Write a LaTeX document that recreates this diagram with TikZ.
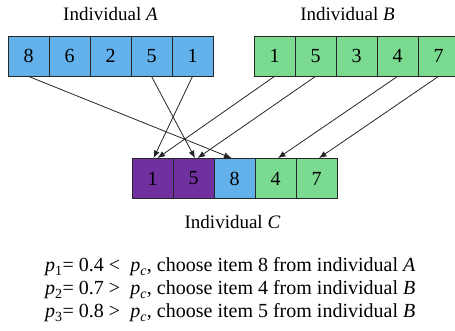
\documentclass[tikz,border=0pt]{standalone}
\usepackage{fontspec}
\setmainfont{Liberation Serif}
\usetikzlibrary{arrows.meta}

\definecolor{cellblue}{RGB}{99,177,234}
\definecolor{cellgreen}{RGB}{122,218,144}
\definecolor{cellpurple}{RGB}{112,48,160}
\definecolor{linegray}{RGB}{38,38,38}

\tikzset{
    cell/.style={shape=rectangle,draw=linegray,line width=0.8pt,minimum width=41pt,
        minimum height=40pt,inner sep=0pt,font=\fontsize{20}{24}\selectfont},
    cellA/.style={cell,fill=cellblue},
    cellB/.style={cell,fill=cellgreen},
    cellC/.style={cell,fill=cellpurple},
    title/.style={font=\fontsize{19}{22}\selectfont},
    rule/.style={anchor=base west,inner sep=0pt,font=\fontsize{20}{23}\selectfont},
    cross/.style={color=linegray,line width=0.8pt,-{Latex[length=7.5pt,width=6pt]}}
}

\begin{document}
\begin{tikzpicture}[x=1pt,y=1pt]
        \useasboundingbox (0,0) rectangle (455,331);

        % parent A
        \node[title] (tA) at (110.5,317) {Individual \textit{A}};
        \node[cellA] (a1) at (28.5,275) {8};
        \node[cellA] (a2) at (69.5,275) {6};
        \node[cellA] (a3) at (110.5,275) {2};
        \node[cellA] (a4) at (151.5,275) {5};
        \node[cellA] (a5) at (192.5,275) {1};

        % parent B
        \node[title] (tB) at (347.5,317) {Individual \textit{B}};
        \node[cellB] (b1) at (274.5,275) {1};
        \node[cellB] (b2) at (315.5,275) {5};
        \node[cellB] (b3) at (356.5,275) {3};
        \node[cellB] (b4) at (397.5,275) {4};
        \node[cellB] (b5) at (438.5,275) {7};

        % offspring C
        \node[cellC] (c1) at (152.5,152.5) {1};
        \node[cellC] (c2) at (193.5,152.5) {5};
        \node[cellA] (c3) at (234.5,152.5) {8};
        \node[cellB] (c4) at (275.5,152.5) {4};
        \node[cellB] (c5) at (316.5,152.5) {7};
        \node[title] (tC) at (232.5,109) {Individual \textit{C}};

        \path [cross](a1.south) edge ([xshift=-3pt]c3.north);
        \path [cross](a4.south) edge ([xshift=1.5pt]c2.north);
        \path [cross](a5.south) edge ([xshift=1pt]c1.north);
        \path [cross](b1.south) edge ([xshift=5pt]c1.north);
        \path [cross](b2.south) edge ([xshift=4pt]c2.north);
        \path [cross](b4.south) edge ([xshift=2.5pt]c4.north);
        \path [cross](b5.south) edge ([xshift=2.5pt]c5.north);

        % selection rules
        \node[rule] (r1) at (45,59) {\textit{p}\textsubscript{1}= 0.4 <\ \ \textit{p}\textsubscript{\textit{c}}, choose item 8 from individual \textit{A}};
        \node[rule] (r2) at (45,36) {\textit{p}\textsubscript{2}= 0.7 >\ \ \textit{p}\textsubscript{\textit{c}}, choose item 4 from individual \textit{B}};
        \node[rule] (r3) at (45,13) {\textit{p}\textsubscript{3}= 0.8 >\ \ \textit{p}\textsubscript{\textit{c}}, choose item 5 from individual \textit{B}};
    \end{tikzpicture}
\end{document}
